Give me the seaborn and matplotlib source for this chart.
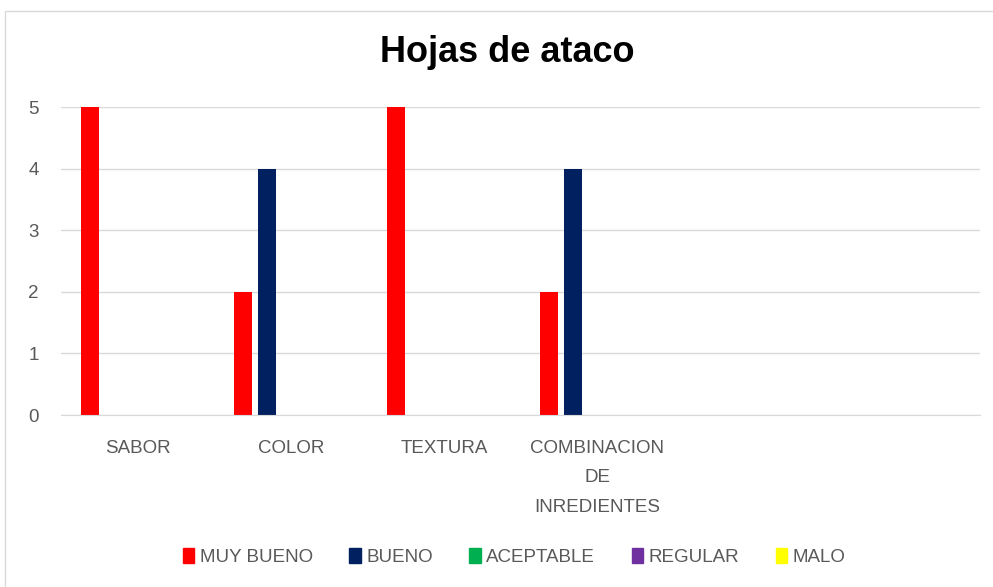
import pandas as pd
import numpy as np
import matplotlib.pyplot as plt
import matplotlib.patches as mpatches
import seaborn as sns

categorias = ['SABOR', 'COLOR', 'TEXTURA', 'COMBINACION\nDE\nINREDIENTES', ' ', '  ']
series = ['MUY BUENO', 'BUENO', 'ACEPTABLE', 'REGULAR', 'MALO']
muy_bueno = [5, 2, 5, 2, 0, 0]
bueno = [0, 4, 0, 4, 0, 0]
aceptable = [0, 0, 0, 0, 0, 0]
regular = [0, 0, 0, 0, 0, 0]
malo = [0, 0, 0, 0, 0, 0]
colores = ['#FF0000', '#002060', '#00B050', '#7030A0', '#FFFF00']

valores = [muy_bueno, bueno, aceptable, regular, malo]
rows = []
for s, vals in zip(series, valores):
    for c, v in zip(categorias, vals):
        rows.append({'cat': c, 'serie': s, 'val': v})
df = pd.DataFrame(rows)

sns.set_style("white")
plt.rcParams['font.family'] = ['Liberation Sans', 'DejaVu Sans']

fig = plt.figure(figsize=(9.93, 5.87), dpi=100)
ax = fig.add_axes([61/993, 1-415/587, 919/993, 308/587])

sns.barplot(data=df, x='cat', y='val', hue='serie', order=categorias, hue_order=series,
            palette=dict(zip(series, colores)), width=0.78, gap=0.24, ax=ax,
            saturation=1, errorbar=None, linewidth=0)

ax.set_ylim(0, 5)
ax.set_xlim(-0.5, len(categorias) - 0.5)
ax.set_yticks(range(6))
ax.grid(axis='y', color='#D9D9D9', linewidth=1)
ax.set_axisbelow(True)
for side in ['top', 'right', 'left']:
    ax.spines[side].set_visible(False)
ax.spines['bottom'].set_color('#D9D9D9')
ax.tick_params(axis='both', length=0, labelcolor='#595959', labelsize=13.5)
ax.tick_params(axis='y', pad=16)
ax.tick_params(axis='x', pad=18)
for t in ax.get_xticklabels():
    t.set_multialignment('center')
    t.set_linespacing(1.95)
ax.set_xlabel('')
ax.set_ylabel('')

fig.text(0.511, 1-52/587, 'Hojas de ataco', ha='center', va='center',
         fontsize=26, fontweight='bold', color='black')

handles = [mpatches.Patch(color=c, label=s) for s, c in zip(series, colores)]
ax.legend(handles=handles, loc='center', bbox_to_anchor=(0.493, -0.461), ncol=5,
          frameon=False, fontsize=13.5, labelcolor='#595959', handlelength=0.6,
          handleheight=0.9, handletextpad=0.3, columnspacing=1.95)

fig.patches.append(mpatches.Rectangle((5/993, -0.1), 1.2, 1.1 - 11/587,
                                      transform=fig.transFigure, fill=False,
                                      edgecolor='#D9D9D9', linewidth=1))

plt.savefig('out.png', dpi=100)
